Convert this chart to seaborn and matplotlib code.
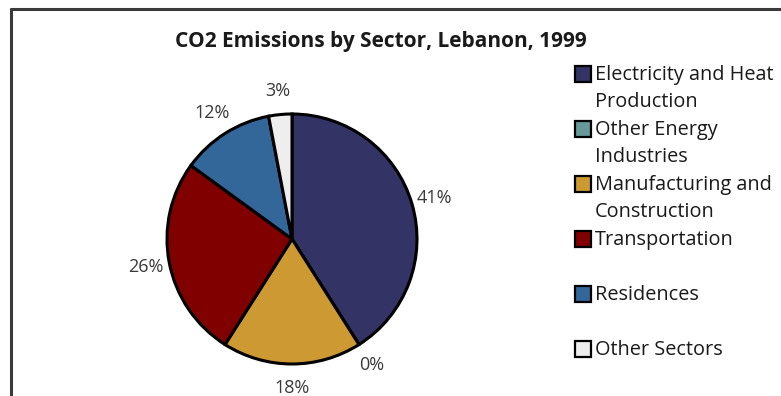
import matplotlib
matplotlib.use("Agg")
import matplotlib.pyplot as plt
import seaborn as sns
import numpy as np
from matplotlib.patches import Rectangle
from matplotlib.lines import Line2D

sns.set_theme(style="white")
plt.rcParams['font.family'] = ['Open Sans', 'DejaVu Sans']

title = "CO2 Emissions by Sector, Lebanon, 1999"
categories = ["Electricity and Heat\nProduction", "Other Energy\nIndustries",
              "Manufacturing and\nConstruction", "Transportation",
              "Residences", "Other Sectors"]
values = [41, 0, 18, 26, 12, 3]
labels = ["41%", "0%", "18%", "26%", "12%", "3%"]
colors = ["#333366", "#669999", "#CC9933", "#800000", "#336699", "#EEEEEE"]

W, H = 781, 396
fig = plt.figure(figsize=(W / 100, H / 100), dpi=100)
fig.patch.set_facecolor("white")

# pie axes: center (292,239) px, radius ~125 px
cx, cy, r = 292, 239, 125
half = 160
ax = fig.add_axes([(cx - half) / W, 1 - (cy + half) / H, 2 * half / W, 2 * half / H])
lim = half / r
wedges, texts = ax.pie(values, colors=colors, startangle=90, counterclock=False,
                       labels=labels, labeldistance=1.19,
                       wedgeprops=dict(edgecolor="black", linewidth=2.2),
                       textprops=dict(fontsize=13, color="#3a3a3a"))
ax.set_xlim(-lim, lim)
ax.set_ylim(-lim, lim)
ax.set_aspect("equal")
ax.axis("off")
for t in texts:
    t.set_ha("center")
    t.set_clip_on(False)

fig.text(381 / W, 1 - 47 / H, title, ha="center", va="baseline", fontsize=15,
         fontweight="bold", color="#1a1a1a")

# legend drawn manually
for i, (cat, col) in enumerate(zip(categories, colors)):
    yc = 74 + i * 55
    fig.add_artist(Rectangle((574.5 / W, 1 - (yc + 8) / H), 16 / W, 16 / H,
                             transform=fig.transFigure, facecolor=col,
                             edgecolor="black", linewidth=1.6))
    for j, line in enumerate(cat.split("\n")):
        fig.text(595 / W, 1 - (yc + 6 + j * 27) / H, line, ha="left", va="baseline",
                 fontsize=14.3, color="#1a1a1a")

# frame border (top and left)
fig.add_artist(Line2D([10.5 / W, 1.0], [1 - 9 / H, 1 - 9 / H], transform=fig.transFigure,
                      color="#3a3a3a", linewidth=2.2))
fig.add_artist(Line2D([11 / W, 11 / W], [0, 1 - 9 / H], transform=fig.transFigure,
                      color="#3a3a3a", linewidth=2.2))

fig.savefig("out.png", dpi=100, facecolor="white")
